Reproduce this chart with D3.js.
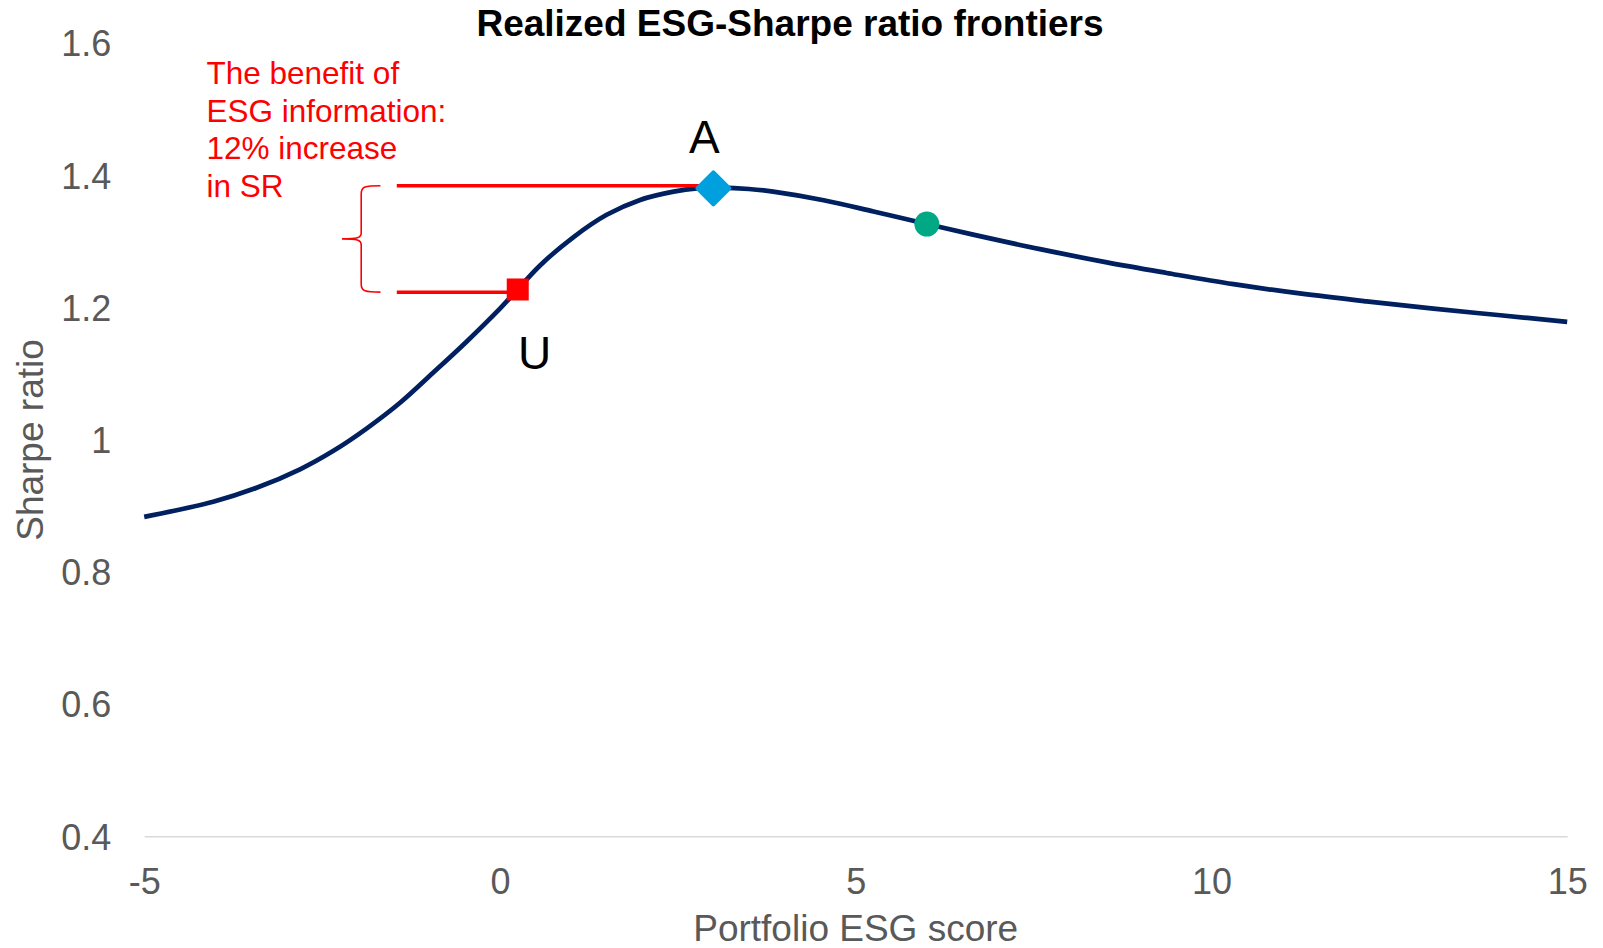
<!DOCTYPE html>
<html>
<head>
<meta charset="utf-8">
<script src="https://cdn.jsdelivr.net/npm/d3@7/dist/d3.min.js"></script>
<style>
  html, body { margin: 0; padding: 0; background: #fff; }
  svg { display: block; }
  text { font-family: "Liberation Sans", Arial, Helvetica, sans-serif; }
</style>
</head>
<body>
<svg id="chart" width="1603" height="948"></svg>
<script>
// ---------- data ----------
const chartTitle = "Realized ESG-Sharpe ratio frontiers";
const xLabel = "Portfolio ESG score";
const yLabel = "Sharpe ratio";
const xTicks = [-5, 0, 5, 10, 15];
const xTickLabels = ["-5", "0", "5", "10", "15"];
const yTicks = [0.4, 0.6, 0.8, 1.0, 1.2, 1.4, 1.6];
const yTickLabels = ["0.4", "0.6", "0.8", "1", "1.2", "1.4", "1.6"];

// frontier (portfolio ESG score, Sharpe ratio)
const esgScore = [-5, -4.03, -3.42, -2.81, -2.34, -1.87, -1.40, -0.94, -0.47, 0.0, 0.19, 0.56, 1.03, 1.50, 1.97, 2.44, 2.77, 3.1, 3.5, 3.84, 4.55, 5.25, 6.0, 6.65, 7.59, 8.53, 9.37, 10.31, 11.24, 12.18, 13.12, 14.06, 15.0];
const sharpe   = [0.883, 0.906, 0.927, 0.955, 0.983, 1.017, 1.056, 1.101, 1.148, 1.198, 1.220, 1.263, 1.306, 1.340, 1.3625, 1.375, 1.380, 1.381, 1.379, 1.375, 1.362, 1.345, 1.326, 1.310, 1.288, 1.268, 1.252, 1.235, 1.221, 1.209, 1.198, 1.188, 1.178];

// highlighted portfolios
const pointU = { esg: 0.25, sr: 1.227, label: "U" };
const pointA = { esg: 3.0,  sr: 1.380, label: "A" };
const pointG = { esg: 6.0,  sr: 1.326 };

// annotation
const annotationLines = ["The benefit of", "ESG information:", "12% increase", "in SR"];
const bracketLevels = [1.384, 1.223];   // SR levels compared (A vs U)
const bracketStartEsg = -1.45;
const braceEsg = [-2.22, -1.95, -1.68]; // tip, spine, ends

// ---------- layout ----------
const svg = d3.select("#chart");
const x = d3.scaleLinear().domain([-5, 15]).range([144.2, 1567.2]);
const y = d3.scaleLinear().domain([0.4, 1.6]).range([836.2, 42.9]);

const gray = "#595959";

// title
svg.append("text")
  .attr("x", 790).attr("y", 35.5)
  .attr("text-anchor", "middle")
  .style("font-weight", "bold").style("font-size", "37px").attr("fill", "#000")
  .text(chartTitle);

// x axis
const xAxis = svg.append("g")
  .attr("transform", `translate(0,${y(0.4)})`)
  .call(d3.axisBottom(x).tickValues(xTicks).tickSize(0).tickSizeOuter(0).tickPadding(32.5)
    .tickFormat((d, i) => xTickLabels[i]));
xAxis.select(".domain").attr("stroke", "#d9d9d9").attr("stroke-width", 1.6);
xAxis.selectAll("text").attr("fill", gray).style("font-size", "36px")
  .style("font-family", "'Liberation Sans', Arial, sans-serif");

// y axis
const yAxis = svg.append("g")
  .attr("transform", `translate(${x(-5)},0)`)
  .call(d3.axisLeft(y).tickValues(yTicks).tickSize(0).tickPadding(33).tickFormat((d, i) => yTickLabels[i]));
yAxis.select(".domain").remove();
yAxis.selectAll("text").attr("fill", gray).style("font-size", "36px").attr("dy", "0.36em")
  .style("font-family", "'Liberation Sans', Arial, sans-serif");

// axis titles
svg.append("text")
  .attr("x", (x(-5) + x(15)) / 2).attr("y", 941)
  .attr("text-anchor", "middle").attr("fill", gray).style("font-size", "37px")
  .text(xLabel);
svg.append("text")
  .attr("transform", `translate(43,${440}) rotate(-90)`)
  .attr("text-anchor", "middle").attr("fill", gray).style("font-size", "37px")
  .text(yLabel);

// frontier line
const frontier = esgScore.map((e, i) => [e, sharpe[i]]);
svg.append("path")
  .datum(frontier)
  .attr("fill", "none").attr("stroke", "#002060").attr("stroke-width", 4.7)
  .attr("stroke-linecap", "butt")
  .attr("d", d3.line().x(d => x(d[0])).y(d => y(d[1])).curve(d3.curveCatmullRom.alpha(0.5)));

// red comparison lines
svg.append("line")
  .attr("x1", x(bracketStartEsg)).attr("x2", x(pointA.esg))
  .attr("y1", y(bracketLevels[0])).attr("y2", y(bracketLevels[0]))
  .attr("stroke", "#ff0000").attr("stroke-width", 3.5);
svg.append("line")
  .attr("x1", x(bracketStartEsg)).attr("x2", x(pointU.esg))
  .attr("y1", y(bracketLevels[1])).attr("y2", y(bracketLevels[1]))
  .attr("stroke", "#ff0000").attr("stroke-width", 3.5);

// brace
{
  const xt = x(braceEsg[0]), xv = x(braceEsg[1]), xe = x(braceEsg[2]);
  const yt = y(bracketLevels[0]), yb = y(bracketLevels[1]), ym = (yt + yb) / 2;
  const p = d3.path();
  p.moveTo(xe, yt);
  p.bezierCurveTo(xv + 4, yt, xv, yt + 1, xv, yt + 8);
  p.lineTo(xv, ym - 6);
  p.bezierCurveTo(xv, ym - 1, xv - 4, ym, xt, ym);
  p.bezierCurveTo(xv - 4, ym, xv, ym + 1, xv, ym + 6);
  p.lineTo(xv, yb - 8);
  p.bezierCurveTo(xv, yb - 1, xv + 4, yb, xe, yb);
  svg.append("path").attr("d", p.toString())
    .attr("fill", "none").attr("stroke", "#ff0000").attr("stroke-width", 1.6);
}

// annotation text
const ann = svg.append("text").attr("fill", "#ff0000").style("font-size", "31.5px");
annotationLines.forEach((t, i) => {
  ann.append("tspan").attr("x", 206.5).attr("y", 84.3 + i * 37.5).text(t);
});

// marker U (square)
svg.append("rect")
  .attr("x", x(pointU.esg) - 11).attr("y", y(pointU.sr) - 11)
  .attr("width", 22).attr("height", 22).attr("fill", "#ff0000");
svg.append("text")
  .attr("x", x(pointU.esg) + 17).attr("y", y(pointU.sr) + 80)
  .attr("text-anchor", "middle").style("font-size", "46px").attr("fill", "#000")
  .text(pointU.label);

// marker A (diamond)
{
  const cx = x(pointA.esg), cy = y(pointA.sr), r = 16;
  svg.append("path")
    .attr("d", `M${cx},${cy - r}L${cx + r},${cy}L${cx},${cy + r}L${cx - r},${cy}Z`)
    .attr("fill", "#00a0df").attr("stroke", "#00a0df").attr("stroke-width", 4)
    .attr("stroke-linejoin", "round");
  svg.append("text")
    .attr("x", cx - 9).attr("y", cy - 35.5)
    .attr("text-anchor", "middle").style("font-size", "46px").attr("fill", "#000")
    .text(pointA.label);
}

// green marker
svg.append("circle")
  .attr("cx", x(pointG.esg)).attr("cy", y(pointG.sr)).attr("r", 12.5)
  .attr("fill", "#00a984");
</script>
</body>
</html>
